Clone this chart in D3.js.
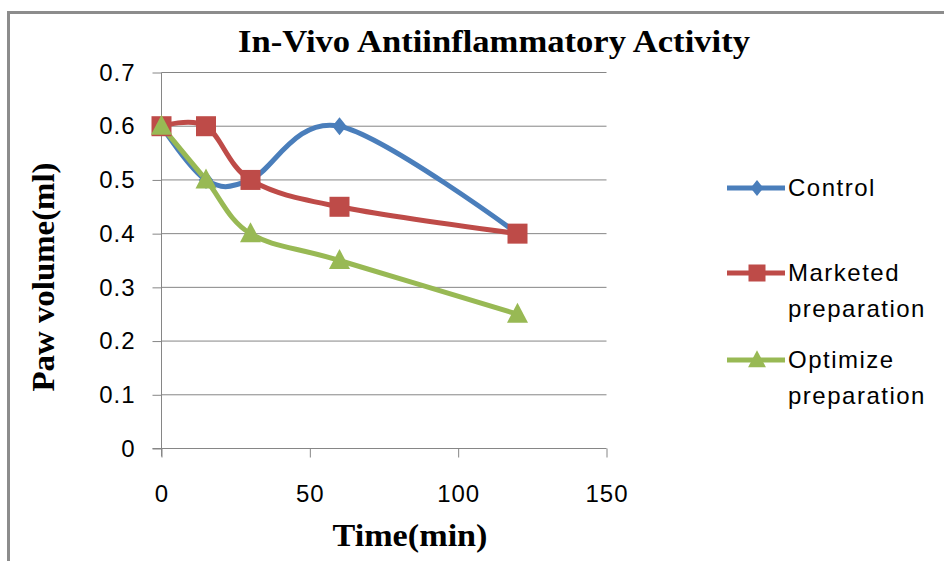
<!DOCTYPE html>
<html><head><meta charset="utf-8">
<script src="https://cdn.jsdelivr.net/npm/d3@7"></script>
<style>body{margin:0;background:#fff}svg{display:block}</style>
</head><body>
<svg id="c" width="944" height="561"></svg>
<script>
const times = [0, 15, 30, 60, 120];
const control = [0.6, 0.5, 0.5, 0.6, 0.4];
const marketed = [0.6, 0.6, 0.5, 0.45, 0.4];
const optimize = [0.6, 0.5, 0.4, 0.35, 0.25];
const seriesNames = ["Control", "Marketed preparation", "Optimize preparation"];
const xTicks = [0, 50, 100, 150];
const yTicks = [0, 0.1, 0.2, 0.3, 0.4, 0.5, 0.6, 0.7];
const title = "In-Vivo Antiinflammatory Activity";
const xTitle = "Time(min)";
const yTitle = "Paw volume(ml)";

const series = [
  {name: seriesNames[0], values: control, color: "#4A7EBB", shape: "diamond", legend: ["Control"]},
  {name: seriesNames[1], values: marketed, color: "#BE4B48", shape: "square", legend: ["Marketed", "preparation"]},
  {name: seriesNames[2], values: optimize, color: "#98B954", shape: "triangle", legend: ["Optimize", "preparation"]}
];

const svg = d3.select("#c");
svg.append("rect").attr("x", 8.5).attr("y", 12.5).attr("width", 940).attr("height", 560)
  .attr("fill", "none").attr("stroke", "#8c8c8c").attr("stroke-width", 3);

const x = d3.scaleLinear().domain([0, 150]).range([161.5, 606.5]);
const y = d3.scaleLinear().domain([0, 0.7]).range([448.5, 72.5]);

const gridCol = "#868686";
svg.append("g").selectAll("line").data(yTicks.slice(1)).join("line")
  .attr("x1", x(0)).attr("x2", x(150)).attr("y1", d => y(d)).attr("y2", d => y(d))
  .attr("stroke", gridCol).attr("stroke-width", 1);

const yAxis = svg.append("g").attr("transform", `translate(${x(0)},0)`)
  .call(d3.axisLeft(y).tickValues(yTicks).tickSize(9).tickPadding(17).tickFormat(d => d === 0 ? "0" : d3.format(".1f")(d)));
const xAxis = svg.append("g").attr("transform", `translate(0,${y(0)})`)
  .call(d3.axisBottom(x).tickValues(xTicks).tickSize(9).tickPadding(27).tickFormat(d3.format("d")));
[yAxis, xAxis].forEach(a => {
  a.select(".domain").attr("stroke", gridCol).attr("stroke-width", 1);
  a.selectAll(".tick line").attr("stroke", gridCol);
  a.selectAll("text").attr("fill", "#000").attr("font-family", "Liberation Sans, Arial, sans-serif")
    .attr("font-size", 24).attr("letter-spacing", 1);
});
yAxis.select(".domain").attr("d", `M0,${y(0) + 8}V${y(0.7)}`);
xAxis.select(".domain").attr("d", `M${x(0) - 9},0H${x(150)}`);

const line = d3.line().x((d, i) => x(times[i])).y(d => y(d)).curve(d3.curveCardinal.tension(0));

function marker(g, shape, cx, cy, color, s) {
  if (shape === "diamond") {
    g.append("path").attr("d", `M${cx},${cy - s}L${cx + s * 0.8},${cy}L${cx},${cy + s}L${cx - s * 0.8},${cy}Z`).attr("fill", color);
  } else if (shape === "square") {
    g.append("rect").attr("x", cx - s).attr("y", cy - s).attr("width", 2 * s).attr("height", 2 * s).attr("fill", color);
  } else {
    g.append("path").attr("d", `M${cx},${cy - s * 1.15}L${cx + s * 1.05},${cy + s * 0.85}L${cx - s * 1.05},${cy + s * 0.85}Z`).attr("fill", color);
  }
}

const plot = svg.append("g");
series.forEach(s => {
  plot.append("path").attr("d", line(s.values)).attr("fill", "none")
    .attr("stroke", s.color).attr("stroke-width", 5).attr("stroke-linejoin", "round");
});
series.forEach(s => {
  const sz = s.shape === "diamond" ? 9 : 10;
  s.values.forEach((v, i) => marker(plot, s.shape, x(times[i]), y(v), s.color, sz));
});

const legY = [188, 273, 360];
const lg = svg.append("g");
series.forEach((s, k) => {
  lg.append("line").attr("x1", 727).attr("x2", 785).attr("y1", legY[k]).attr("y2", legY[k])
    .attr("stroke", s.color).attr("stroke-width", 5);
  marker(lg, s.shape, 757, legY[k], s.color, s.shape === "diamond" ? 8 : 8.5);
  s.legend.forEach((t, j) => {
    lg.append("text").attr("x", 788).attr("y", legY[k] + 8 + j * 36).text(t)
      .attr("font-family", "Liberation Sans, Arial, sans-serif").attr("font-size", 24)
      .attr("letter-spacing", 1.5).attr("fill", "#000");
  });
});

svg.append("text").attr("x", 494).attr("y", 52).attr("text-anchor", "middle")
  .attr("font-family", "Liberation Serif, Times New Roman, serif").attr("font-weight", "bold")
  .attr("font-size", 32).attr("textLength", 512).attr("lengthAdjust", "spacingAndGlyphs").text(title);
svg.append("text").attr("x", 410).attr("y", 546).attr("text-anchor", "middle")
  .attr("font-family", "Liberation Serif, Times New Roman, serif").attr("font-weight", "bold")
  .attr("font-size", 32).attr("textLength", 155).attr("lengthAdjust", "spacingAndGlyphs").text(xTitle);
svg.append("text").attr("transform", "translate(54,277) rotate(-90)").attr("text-anchor", "middle")
  .attr("font-family", "Liberation Serif, Times New Roman, serif").attr("font-weight", "bold")
  .attr("font-size", 32).attr("textLength", 229).attr("lengthAdjust", "spacingAndGlyphs").text(yTitle);
</script>
</body></html>
